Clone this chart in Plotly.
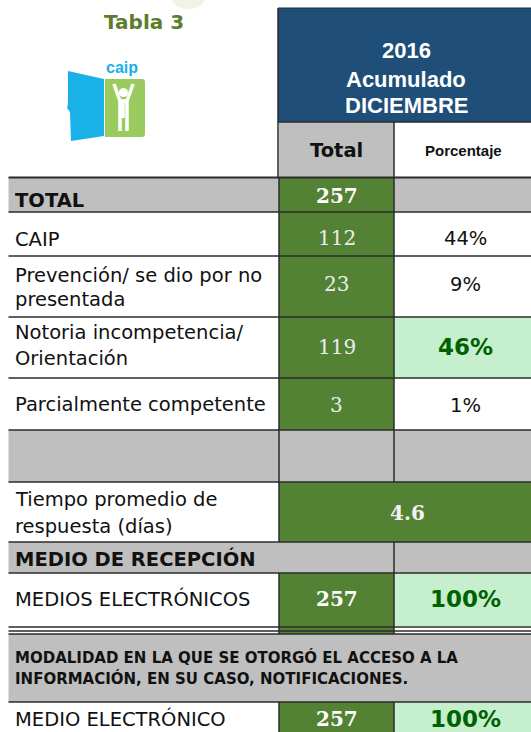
import plotly.graph_objects as go

# ---------------- data ----------------
titulo = "Tabla 3"
encabezado = ["2016", "Acumulado", "DICIEMBRE"]
columnas = ["Total", "Porcentaje"]
total_label = "TOTAL"
total_general = 257
categorias = ["CAIP", "Prevención/ se dio por no\npresentada",
              "Notoria incompetencia/\nOrientación", "Parcialmente competente"]
totales = [112, 23, 119, 3]
porcentajes = [44, 9, 46, 1]
tiempo_label = "Tiempo promedio de\nrespuesta (días)"
tiempo_promedio = 4.6
recepcion_titulo = "MEDIO DE RECEPCIÓN"
recepcion_cat = ["MEDIOS ELECTRÓNICOS"]
recepcion_total = [257]
recepcion_pct = [100]
modalidad_titulo = "MODALIDAD EN LA QUE SE OTORGÓ EL ACCESO A LA\nINFORMACIÓN, EN SU CASO, NOTIFICACIONES."
modalidad_cat = ["MEDIO ELECTRÓNICO"]
modalidad_total = [257]
modalidad_pct = [100]

# ---------------- styles ----------------
W, H = 531, 732
GREEN = "#548235"
LGREEN = "#c6efce"
GRAY = "#bfbfbf"
BLUE = "#1f4e79"
DKGREEN_TXT = "#006100"
LINE = "#2b2b2b"
SANS = "DejaVu Sans, Verdana, sans-serif"
SERIF = "DejaVu Serif, Georgia, serif"
ARIAL = "Liberation Sans, Arial, sans-serif"
LBL = 19.5
BIGPCT = 23

X0, X1, X2, X3 = 8.5, 279, 394, 545

shapes = []
ann = []


def rect(x0, y0, x1, y1, fill):
    shapes.append(dict(type="rect", xref="x", yref="y", x0=x0, x1=x1, y0=y0, y1=y1,
                       fillcolor=fill, line=dict(width=0), layer="below"))


def hline(y, x0=X0, x1=X3, w=1.5):
    shapes.append(dict(type="line", xref="x", yref="y", x0=x0, x1=x1, y0=y, y1=y,
                       line=dict(color=LINE, width=w)))


def vline(x, y0, y1, w=1.5):
    shapes.append(dict(type="line", xref="x", yref="y", x0=x, x1=x, y0=y0, y1=y1,
                       line=dict(color=LINE, width=w)))


def text(x, y, s, size, color="#111", family=SANS, bold=False, anchor="left"):
    if bold:
        s = "<b>" + s + "</b>"
    ann.append(dict(x=x, y=y, xref="x", yref="y", text=s, showarrow=False,
                    xanchor=anchor, yanchor="middle",
                    font=dict(size=size, color=color, family=family)))


def label(lines_y, s, size=LBL, bold=False, color="#111"):
    for ln, yy in zip(s.split("\n"), lines_y):
        text(13, yy, ln, size, color=color, bold=bold)


C2 = (X1 + X2) / 2
C3 = 465

# ---------------- header ----------------
text(144, 22, titulo, 20, color="#5b7e2d", bold=True, anchor="center")
# logo
shapes.append(dict(type="path", xref="x", yref="y",
                   path="M68,71 L104,79 L104,136 L71,141 L70,112 L67,108 L68,104 Z",
                   fillcolor="#1ab0e8", line=dict(width=0)))
shapes.append(dict(type="path", xref="x", yref="y",
                   path="M105,79 L142,79 Q145,79 145,82 L145,134 Q145,137 142,137 L105,137 Z",
                   fillcolor="#9acb5e", line=dict(width=0)))
shapes.append(dict(type="circle", xref="x", yref="y", x0=119, x1=128, y0=88, y1=97,
                   fillcolor="white", line=dict(width=0)))
shapes.append(dict(type="path", xref="x", yref="y",
                   path="M114,84 L120,101 L120,131 M133,84 L127,101 L127,131 M120,101 L127,101 M123,101 L123,118",
                   line=dict(color="white", width=3.5)))
text(122, 67, "caip", 16, color="#1ab0e8", family=ARIAL, bold=True, anchor="center")
# faint blob at top
shapes.append(dict(type="circle", xref="x", yref="y", x0=172, x1=205, y0=-12, y1=9,
                   fillcolor="rgba(225,228,200,0.45)", line=dict(width=0), layer="below"))

rect(278, 8, X3, 122, BLUE)
rect(279, 122, X2, 178, GRAY)
vline(278, 8, 178)
hline(8, 278, X3, 1)
hline(122, 278, X3)
vline(X2, 122, 178)
for ln, yy in zip(encabezado, [50.5, 79.5, 105]):
    text(406, yy, ln, 22, color="white", family=ARIAL, bold=True, anchor="center")
text(C2, 150, columnas[0], 19.5, color="#111", family=SANS, bold=True, anchor="center")
text(C3 - 2, 150, columnas[1], 15, color="#111", family=ARIAL, bold=True, anchor="center")

# ---------------- body rows ----------------
row_b = [212, 256, 317, 378, 430]

# TOTAL row
rect(X0, 178, X1, 212, GRAY)
rect(X1, 178, X2, 212, GREEN)
rect(X2, 178, X3, 212, GRAY)
text(13, 200.5, total_label, LBL, bold=True)
text(C2, 195.5, str(total_general), 20, color="white", family=SERIF, bold=True, anchor="center")

label_y = [[239.5], [275, 299], [332, 358], [404]]
num_y = [238, 284, 347, 405]
pmax = max(porcentajes)
for i, cat in enumerate(categorias):
    y0, y1 = row_b[i], row_b[i + 1]
    rect(X1, y0, X2, y1, GREEN)
    if porcentajes[i] == pmax:
        rect(X2, y0, X3, y1, LGREEN)
        text(C3, num_y[i], f"{porcentajes[i]}%", BIGPCT, color=DKGREEN_TXT, bold=True, anchor="center")
    else:
        text(C3, num_y[i], f"{porcentajes[i]}%", LBL, color="#111", anchor="center")
    label(label_y[i], cat)
    text(C2, num_y[i], str(totales[i]), 20, color="#ececec", family=SERIF, anchor="center")

# empty gray row
rect(X0, 430, X3, 482, GRAY)

# Tiempo row
rect(X1, 482, X3, 542, GREEN)
label([499.5, 526], tiempo_label)
text(407, 513, f"{tiempo_promedio}", 20, color="#f2f2f2", family=SERIF, bold=True, anchor="center")

# MEDIO DE RECEPCION header
rect(X0, 542, X3, 573, GRAY)
text(13, 558.5, recepcion_titulo, LBL, bold=True)

# MEDIOS ELECTRONICOS
rect(X1, 573, X2, 634, GREEN)
rect(X2, 573, X3, 626, LGREEN)
label([599], recepcion_cat[0])
text(C2, 599, str(recepcion_total[0]), 20, color="white", family=SERIF, bold=True, anchor="center")
text(C3, 599, f"{recepcion_pct[0]}%", BIGPCT, color=DKGREEN_TXT, bold=True, anchor="center")

# MODALIDAD header
rect(X0, 634, X3, 702, GRAY)
label([657.5, 678.5], modalidad_titulo, size=15, bold=True)

# MEDIO ELECTRONICO
rect(X1, 702, X2, 745, GREEN)
rect(X2, 702, X3, 745, LGREEN)
label([719], modalidad_cat[0])
text(C2, 719, str(modalidad_total[0]), 20, color="white", family=SERIF, bold=True, anchor="center")
text(C3, 719, f"{modalidad_pct[0]}%", BIGPCT, color=DKGREEN_TXT, bold=True, anchor="center")

# ---------------- grid lines ----------------
hline(177.5, w=2.2)
for y in [212, 256, 317, 378, 430, 482, 542, 573, 627, 631, 634, 702]:
    hline(y, w=1.3 if y == 631 else 1.5)
vline(X1, 178, 542)
vline(X1, 573, 634)
vline(X1, 702, 745)
vline(X2, 178, 482)
vline(X2, 542, 634)
vline(X2, 702, 745)

fig = go.Figure()
fig.add_trace(go.Scatter(x=[0, W], y=[0, H], mode="markers", marker=dict(opacity=0),
                         hoverinfo="skip", showlegend=False))
fig.update_layout(
    width=W, height=H, margin=dict(l=0, r=0, t=0, b=0),
    paper_bgcolor="white", plot_bgcolor="white",
    xaxis=dict(range=[0, W], visible=False, fixedrange=True),
    yaxis=dict(range=[H, 0], visible=False, fixedrange=True),
    shapes=shapes, annotations=ann, showlegend=False,
)
fig.write_html("out.html", config={"displayModeBar": False},
               post_script="document.body.style.margin='0';document.body.style.overflow='hidden';")
